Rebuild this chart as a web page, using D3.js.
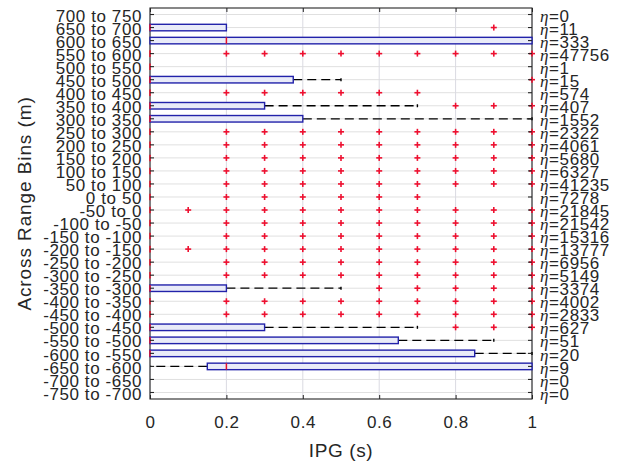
<!DOCTYPE html>
<html><head><meta charset="utf-8">
<script src="https://cdn.jsdelivr.net/npm/d3@7"></script>
<style>
html,body{margin:0;padding:0;background:#fff;}
svg{display:block;}
text{font-family:"Liberation Sans",Arial,sans-serif;fill:#262626;}
</style></head>
<body><svg id="chart" width="621" height="468"></svg>
<script>
// categories listed bottom -> top
const categories = ["-750 to -700","-700 to -650","-650 to -600","-600 to -550","-550 to -500","-500 to -450","-450 to -400","-400 to -350","-350 to -300","-300 to -250","-250 to -200","-200 to -150","-150 to -100","-100 to -50","-50 to 0","0 to 50","50 to 100","100 to 150","150 to 200","200 to 250","250 to 300","300 to 350","350 to 400","400 to 450","450 to 500","500 to 550","550 to 600","600 to 650","650 to 700","700 to 750"];
const counts = [0,0,9,20,51,627,2833,4002,3374,5149,6956,13777,15316,21542,21845,7278,41235,6327,5680,4061,2322,1552,407,574,15,1,47756,333,11,0];
const q1 =          [null,null,0.15,0,0,0,0,0,0,0,0,0,0,0,0,0,0,0,0,0,0,0,0,0,0,0,0,0,0,null];
const medians =     [null,null,0.2,0,0,0,0,0,0,0,0,0,0,0,0,0,0,0,0,0,0,0,0,0,0,0,0,0.2,0,null];
const q3 =          [null,null,1,0.85,0.65,0.3,0,0,0.2,0,0,0,0,0,0,0,0,0,0,0,0,0.4,0.3,0,0.375,0,0,1,0.2,null];
const whiskerLow =  [null,null,0,0,0,0,0,0,0,0,0,0,0,0,0,0,0,0,0,0,0,0,0,0,0,0,0,0,0,null];
const whiskerHigh = [null,null,1,1,0.9,0.7,0,0,0.5,0,0,0,0,0,0,0,0,0,0,0,0,1,0.7,0,0.5,0,0,1,0.2,null];
const fullOut = [0.2,0.3,0.4,0.5,0.6,0.7,0.8,0.9,1];
const outliers = [[],[],[],[],[],[0.8,0.9,1],fullOut,fullOut,[0.6,0.7,0.8,0.9,1],fullOut,fullOut,[0.1].concat(fullOut),fullOut,fullOut,[0.1].concat(fullOut),[0.2,0.3,0.4,0.5,0.6,0.7],fullOut,fullOut,fullOut,fullOut,fullOut,[],[0.8,0.9,1],[0.2,0.3,0.4,0.5,0.6,0.7],[1],[],fullOut,[],[0.9],[]];
const xTicks = [0,0.2,0.4,0.6,0.8,1];
const xLabel = "IPG (s)";
const yLabel = "Across Range Bins (m)";

const svg = d3.select("#chart");
const L=150, R=532, T=8, B=399;
const x = d3.scaleLinear().domain([0,1]).range([L,R]);
const y = d3.scaleBand().domain(categories.slice().reverse()).range([T,B]).padding(0);
const bw = y.bandwidth();
const cy = c => y(c)+bw/2;
const axisCol = "#262626";

// grid
const g = svg.append("g");
g.selectAll("line.hg").data(categories).join("line")
  .attr("x1",L).attr("x2",R).attr("y1",d=>cy(d)).attr("y2",d=>cy(d))
  .attr("stroke","#e0e0e0").attr("stroke-width",1);
g.selectAll("line.vg").data(xTicks).join("line")
  .attr("x1",d=>x(d)).attr("x2",d=>x(d)).attr("y1",T).attr("y2",B)
  .attr("stroke","#dadae2").attr("stroke-width",1);

// axes box (under marks)
svg.append("rect").attr("x",L).attr("y",T).attr("width",R-L).attr("height",B-T)
  .attr("fill","none").attr("stroke",axisCol).attr("stroke-width",1.1);

// boxplot data rows
const rows = categories.map((c,i)=>({c,i,q1:q1[i],med:medians[i],q3:q3[i],lo:whiskerLow[i],hi:whiskerHigh[i],out:outliers[i]}));
const bh = bw*0.5;
const marks = svg.append("g");
const valid = rows.filter(r=>r.q1!==null);
// whiskers
valid.forEach(r=>{
  const yc = cy(r.c);
  if (r.hi>r.q3) {
    marks.append("line").attr("x1",x(r.q3)).attr("x2",x(r.hi)).attr("y1",yc).attr("y2",yc)
      .attr("stroke","#000").attr("stroke-width",1.3).attr("stroke-dasharray","9,5");
    marks.append("line").attr("x1",x(r.hi)).attr("x2",x(r.hi)).attr("y1",yc-1.5).attr("y2",yc+1.5)
      .attr("stroke","#000").attr("stroke-width",1.4);
  }
  if (r.lo<r.q1) {
    marks.append("line").attr("x1",x(r.q1)).attr("x2",x(r.lo)).attr("y1",yc).attr("y2",yc)
      .attr("stroke","#000").attr("stroke-width",1.3).attr("stroke-dasharray","9,5");
  }
});
// boxes
marks.selectAll("rect.box").data(valid.filter(r=>r.q3>r.q1)).join("rect")
  .attr("x",r=>x(r.q1)).attr("width",r=>x(r.q3)-x(r.q1))
  .attr("y",r=>cy(r.c)-bh/2).attr("height",bh)
  .attr("fill","#e9ebf8").attr("stroke","#2222aa").attr("stroke-width",1.4);
// medians
marks.selectAll("line.med").data(valid).join("line")
  .attr("x1",r=>x(r.med)).attr("x2",r=>x(r.med))
  .attr("y1",r=>cy(r.c)-bh/2).attr("y2",r=>cy(r.c)+bh/2)
  .attr("stroke","#e8102a").attr("stroke-width",1.5);
// outliers
const pts = [];
rows.forEach(r=>r.out.forEach(v=>pts.push({c:r.c,v})));
const pg = marks.selectAll("g.out").data(pts).join("g")
  .attr("transform",d=>`translate(${x(d.v)},${cy(d.c)})`);
pg.append("line").attr("x1",-3).attr("x2",3).attr("stroke","#ee1030").attr("stroke-width",1.6);
pg.append("line").attr("y1",-3).attr("y2",3).attr("stroke","#ee1030").attr("stroke-width",1.6);

// y axis left (ticks inward)
const yAx = svg.append("g").attr("transform",`translate(${L},0)`)
  .call(d3.axisLeft(y).tickSizeInner(-4).tickSizeOuter(0).tickPadding(8));
yAx.select(".domain").remove();
yAx.selectAll(".tick line").attr("stroke",axisCol).attr("stroke-width",1.1);
yAx.selectAll(".tick text").attr("font-size",17).attr("letter-spacing","0.6px")
  .attr("fill",axisCol).attr("dy","0.42em").attr("font-family","Liberation Sans, Arial, sans-serif");

// right axis ticks inward
const yAxR = svg.append("g").attr("transform",`translate(${R},0)`)
  .call(d3.axisRight(y).tickSizeInner(-4).tickSizeOuter(0).tickFormat(""));
yAxR.select(".domain").remove();
yAxR.selectAll(".tick line").attr("stroke",axisCol).attr("stroke-width",1.1);

// right labels η=n
const rl = svg.append("g");
const rt = rl.selectAll("text").data(rows).join("text")
  .attr("x",R+8).attr("y",d=>cy(d.c)).attr("dy","0.42em").attr("font-size",17).attr("letter-spacing","0.6px");
rt.append("tspan").attr("font-family","Liberation Serif, DejaVu Serif, serif").attr("font-style","italic").text("\u03B7");
rt.append("tspan").text(d=>"="+counts[d.i]);

// x axis bottom
const xAx = svg.append("g").attr("transform",`translate(0,${B})`)
  .call(d3.axisBottom(x).tickValues(xTicks).tickFormat(d3.format("~g")).tickSizeInner(-4).tickSizeOuter(0).tickPadding(17));
xAx.select(".domain").remove();
xAx.selectAll(".tick line").attr("stroke",axisCol);
xAx.selectAll(".tick text").attr("font-size",17).attr("letter-spacing","0.6px").attr("fill",axisCol)
  .attr("font-family","Liberation Sans, Arial, sans-serif");
// top ticks
const xAxT = svg.append("g").attr("transform",`translate(0,${T})`)
  .call(d3.axisTop(x).tickValues(xTicks).tickFormat("").tickSizeInner(-4).tickSizeOuter(0));
xAxT.select(".domain").remove();
xAxT.selectAll(".tick line").attr("stroke",axisCol);

// titles
svg.append("text").attr("x",(L+R)/2).attr("y",457).attr("text-anchor","middle")
  .attr("font-size",19).attr("letter-spacing","0.6px").text(xLabel);
svg.append("text").attr("transform",`translate(31,${(T+B)/2}) rotate(-90)`).attr("text-anchor","middle")
  .attr("font-size",19).attr("letter-spacing","0.9px").text(yLabel);
</script></body></html>
